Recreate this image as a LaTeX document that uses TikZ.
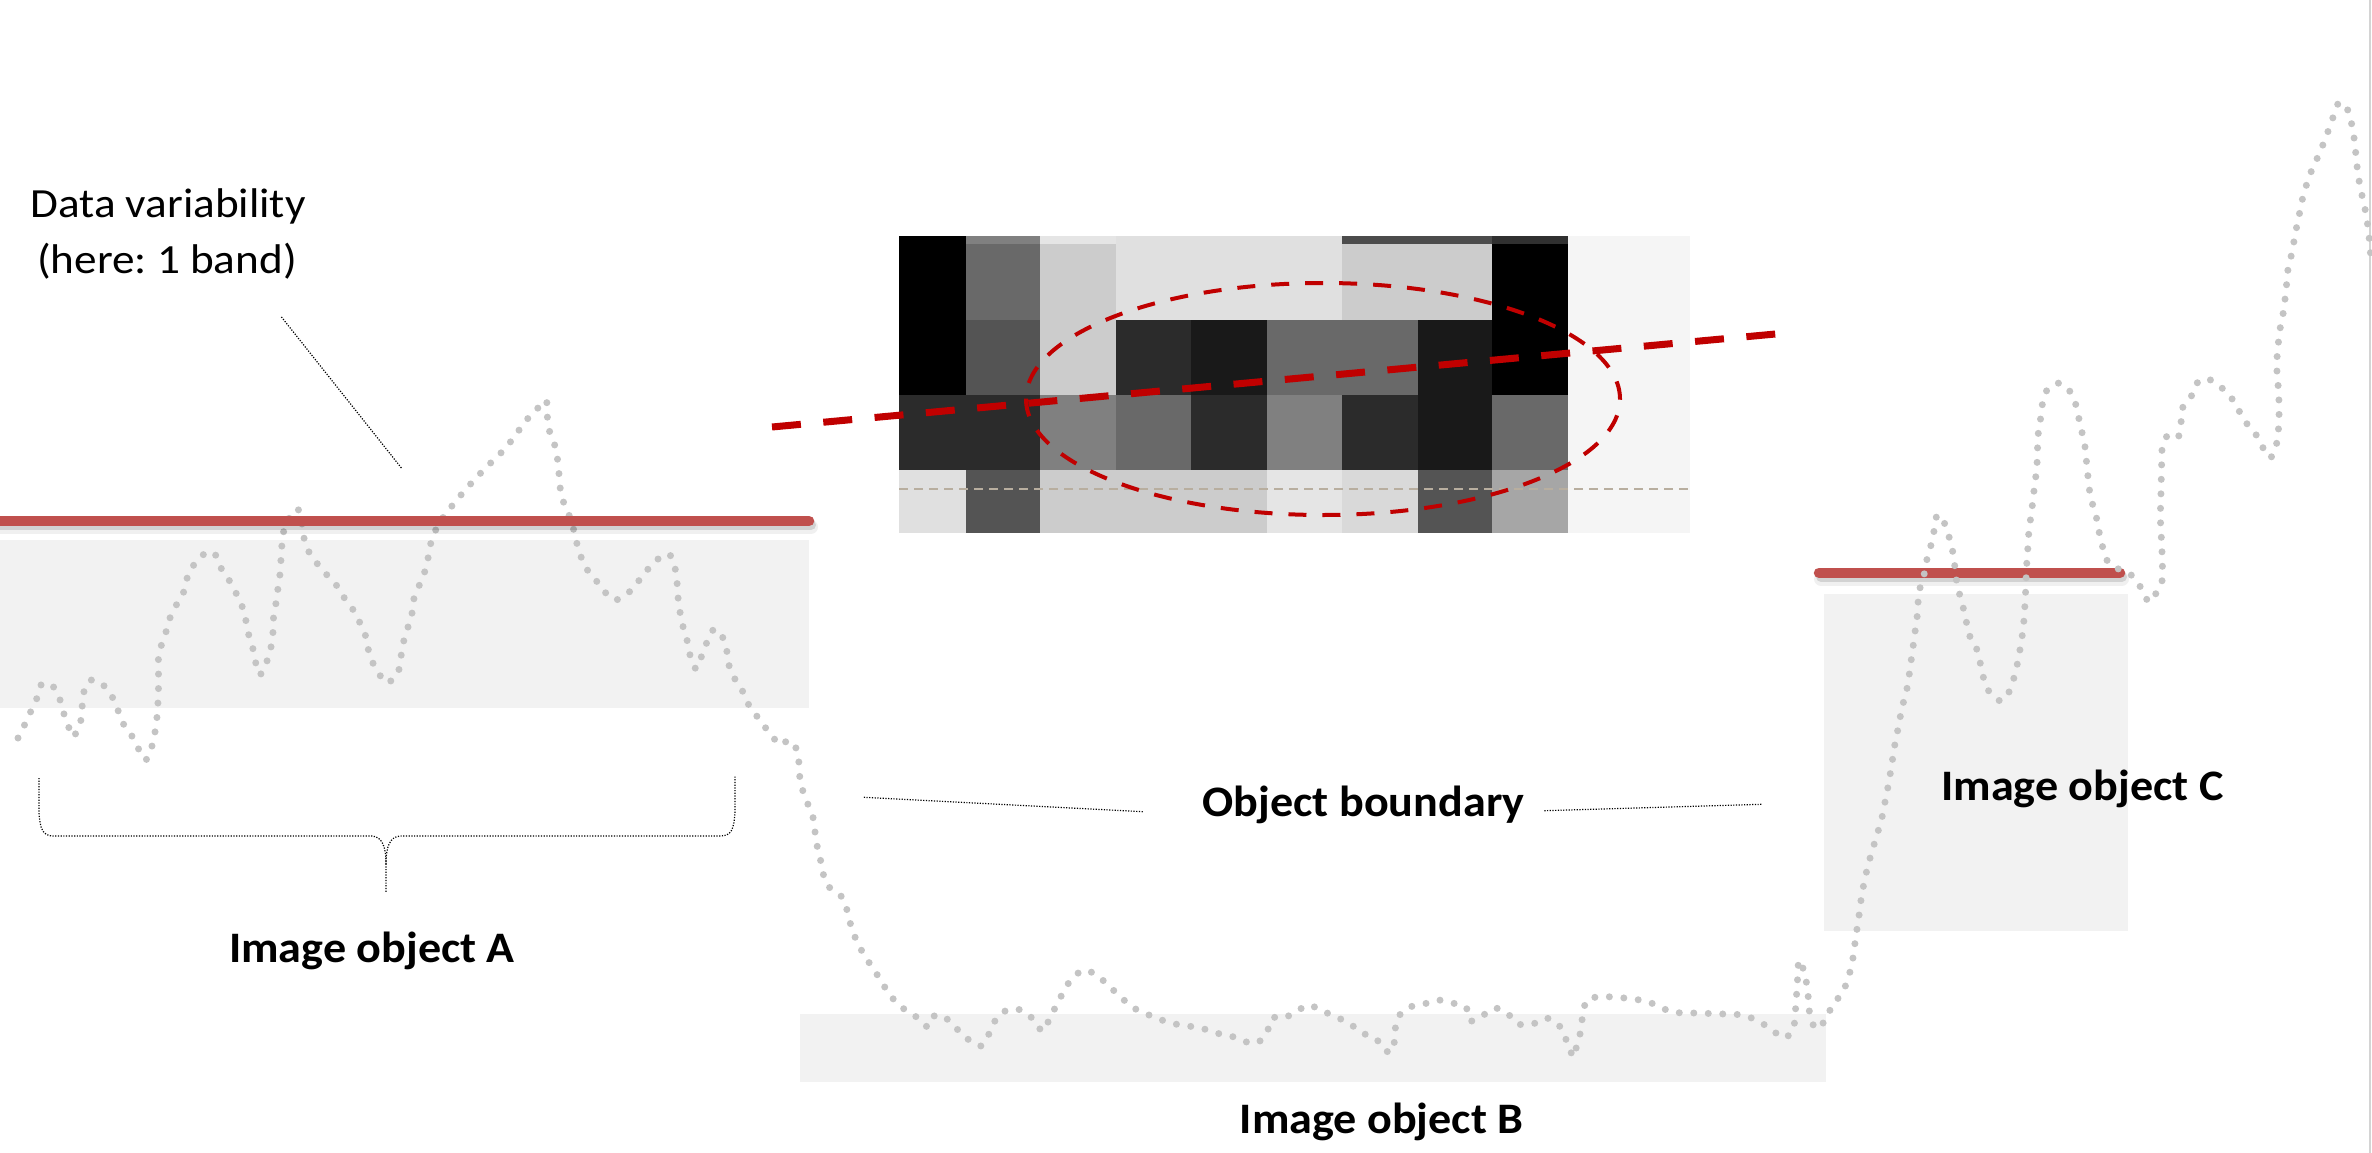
\documentclass[tikz,border=0pt]{standalone}
\usepackage{fontspec}
\usetikzlibrary{shapes.geometric}
\setmainfont{Carlito}
\frenchspacing
\definecolor{boxgray}{HTML}{F2F2F2}
\definecolor{dotgray}{HTML}{C4C4C4}
\definecolor{softred}{HTML}{C0504D}
\definecolor{deepred}{HTML}{C00000}
\definecolor{beige}{HTML}{B8AE9F}
\definecolor{edgegray}{HTML}{D4D4D4}
\newcommand{\boldstretch}[1]{\scalebox{1.06}[1]{#1}}
\newcommand{\plainstretch}[1]{\scalebox{1.09}[1]{#1}}
\begin{document}
\begin{tikzpicture}[x=1pt,y=-1pt,
  objbox/.style={fill=boxgray},
  datacurve/.style={draw=dotgray, line width=7pt, line cap=round, dash pattern=on 0pt off 14.5pt},
  bandline/.style={draw=softred, line width=10.5pt, line cap=round},
  bandshadow/.style={draw=black, line cap=round},
  leader/.style={draw=black, line width=1.2pt, dash pattern=on 1.2pt off 1.5pt},
  boldlabel/.style={font=\fontsize{43.5}{52}\bfseries\selectfont, inner sep=0pt},
  plainlabel/.style={font=\fontsize{41.5}{50}\selectfont, inner sep=0pt}]
\useasboundingbox (0,0) rectangle (2372,1153);
\fill[white] (0,0) rectangle (2372,1153);

% object areas
\fill[objbox] (0,539.5) rectangle (809,707.5);
\fill[objbox] (800,1014) rectangle (1826,1081.7);
\fill[objbox] (1824,593.8) rectangle (2127.7,930.7);

% right edge line
\draw[edgegray, line width=2.5pt] (2370,0) -- (2370,1153);

% red line C (under the curve)
\coordinate (c1) at (1819,572.8);
\coordinate (c2) at (2120,572.8);
\draw[bandshadow, line width=14pt, opacity=0.06] ([shift={(2,6)}]c1) -- ([shift={(2,6)}]c2);
\draw[bandshadow, line width=10pt, opacity=0.12] ([shift={(2,4)}]c1) -- ([shift={(2,4)}]c2);
\draw[bandline] (c1) -- (c2);

% data curve
\draw[datacurve] plot[smooth, tension=0.5] coordinates {
(18,738) (25,724) (31,711) (37,698) (41,685) (51,684) (59,697) (63,711) (68,725) (73,737)
(80,724) (82,710) (83,695) (89,681) (98,681) (106,688) (114,700) (119,713) (125,727) (134,739)
(140,752) (146,760) (152,746) (155,732) (157,717) (158,702) (158.5,687) (158.5,673) (158.5,658)
(162,643) (167,629) (171,615) (178,602) (185,589) (188,575) (196,562) (207,552) (215,554)
(221,568) (229,580) (236,593) (242,606) (246,621) (249,636) (253,649) (256,664) (260,675)
(267,661) (271,647) (273,632) (273.5,618) (276,603) (278,588) (280,574) (281,559) (282,544)
(284,530) (291,515) (298,509) (302,524) (304,538) (309,552) (317.5,564) (327,575) (337,586) (345,599)
(354,611) (360,623) (366,637) (368,648) (371,659) (378,672) (386.5,683) (397.5,674) (400.6,659)
(403,644) (407,630) (411.6,616) (413,602) (416,593) (421.5,580) (427,565) (429,551) (433,536)
(440,522) (448,511) (457.6,499) (467,488) (477,477) (487.5,466) (498,456) (508,445) (517,433)
(525.6,421) (535.6,410.6) (546,400) (547,413) (549,430) (553,439) (556.5,453) (558.6,468)
(559.6,483) (562,498) (567.5,511) (572.7,526) (576,540) (580,554) (586,568) (595,579) (604,591)
(614.5,600) (627,594) (637,583) (646,571.5) (656,560.5) (669,554) (675,568) (677,582) (678,597)
(680,612) (683,626.5) (687,640) (690,655) (696,669) (702,655) (707,642) (714,629) (722,636)
(726.5,649) (728.6,664) (734,677.5) (741.6,689) (747,702) (756,715) (764.6,726.5) (773.5,738)
(781,745) (789,740) (797,750) (799,764) (800,779) (803.5,793) (809,807) (814,821) (815.4,836)
(818,850) (821.7,865) (824.5,879) (830,888) (841,896) (847,910) (850.5,924) (855.4,938)
(862.4,952) (870,964) (878,976) (886,989) (895,1001) (906.6,1011) (918,1018) (928,1027)
(935,1015) (947,1019) (958,1030) (969,1040) (981,1046) (988,1036) (993.6,1023) (1003,1012)
(1017,1009) (1029,1015) (1038.5,1027) (1043,1031) (1050,1018) (1057,1004) (1064,991)
(1071.5,979) (1084,970) (1098,976) (1108.6,986) (1120,996) (1130.4,1006) (1144,1013)
(1157,1018) (1170,1023) (1188,1026) (1201,1028) (1216,1033) (1231,1036) (1243,1041)
(1257,1043) (1267,1032) (1272,1018) (1284,1018) (1297,1011) (1309,1005) (1322,1011)
(1337,1017) (1349,1024) (1362,1031) (1368,1037) (1380,1042) (1389,1053) (1394,1044)
(1395,1031) (1398,1017) (1410,1007) (1424,1004) (1438,1000) (1452,1003) (1466,1007)
(1470,1021) (1482,1016) (1495,1008) (1508,1014) (1518,1024) (1533,1024) (1546,1018)
(1558,1024) (1565,1037) (1570,1050) (1574,1057) (1577,1044) (1581,1030) (1583,1012)
(1588,999) (1602,997) (1616,997) (1631,999) (1646,1001) (1660,1007) (1672,1012) (1687,1013)
(1701,1013) (1717,1014) (1732,1014) (1746,1016) (1760,1022) (1772,1030) (1784,1038)
(1793,1030) (1795,1016) (1796,1002) (1797,988) (1798,972) (1799,960) (1805,974) (1807,988)
(1809,1003) (1810,1017) (1816.5,1029) (1826,1019) (1832,1006) (1842,993) (1848,979)
(1851.5,965) (1854,952) (1855.5,938) (1858,923) (1860,908) (1862,893) (1865,879) (1868,865)
(1872.5,850) (1876.6,835.5) (1881,822) (1884,807) (1887,792) (1889.5,778) (1892,763)
(1894,749) (1897,734) (1899.7,719.5) (1902.7,705) (1906.5,691) (1909,676) (1911,661.5)
(1913,647) (1915,632) (1917,618) (1918,603) (1920,588) (1924.6,572.5) (1927,559) (1931,545)
(1934,531) (1937,515) (1943,520) (1948,533.5) (1952,548) (1954.4,563) (1956,578) (1959,592)
(1963,607) (1966,620) (1969,634.5) (1976,647) (1980,662) (1983,676) (1988,690) (1999,700.5)
(2006,698) (2012,684) (2016,670) (2019,655) (2021.6,640) (2023.5,625) (2024.6,610)
(2025.4,596) (2026,581) (2026.5,567) (2027.6,552) (2028.4,537) (2030,523) (2032,508)
(2033.7,493) (2035.6,478) (2037,464) (2037.5,449) (2038.2,434) (2040.5,419) (2042.4,404)
(2047,390) (2059,383) (2069,390) (2075.6,404) (2079,419) (2082,432.5) (2085,447) (2086.5,462)
(2088,477) (2089.6,491) (2093,506) (2097,520) (2099.7,535) (2103.5,550) (2108.4,563)
(2116,568) (2123.5,571) (2133.7,577) (2141.6,589) (2148.8,602) (2155.6,594) (2162,581)
(2162.4,566) (2162,552) (2161.3,537) (2160.5,522) (2160.5,508) (2161,492) (2161.3,477)
(2161.7,462) (2162.4,447) (2167.7,435) (2173.7,437) (2178.6,436.5) (2181,423) (2182.4,408)
(2191,397) (2196,384) (2206.6,378.5) (2219.4,386) (2230,396) (2238,409) (2245.5,422)
(2255,433) (2262,446) (2270,458) (2276,446) (2278.3,431) (2279,417) (2279,403) (2278.3,388)
(2277,373) (2277,358) (2278.3,343.5) (2280,329) (2283,314) (2285,299) (2286.6,284) (2288,269)
(2291.5,254.5) (2294,241) (2297,225) (2300,211) (2303,196.5) (2307.4,182) (2312.6,168)
(2318.7,155) (2324.4,141) (2329.6,127) (2334.6,113) (2339.5,102) (2349,112) (2352,126.5)
(2354.5,141) (2356,156) (2357.6,171) (2360,186) (2363,200) (2366,214) (2368,228)
(2369.6,242.5) (2370.8,258)};

% red line A (over the curve)
\coordinate (a1) at (-10,521);
\coordinate (a2) at (809,521);
\draw[bandshadow, line width=14pt, opacity=0.06] ([shift={(2,6)}]a1) -- ([shift={(2,6)}]a2);
\draw[bandshadow, line width=10pt, opacity=0.12] ([shift={(2,4)}]a1) -- ([shift={(2,4)}]a2);
\draw[bandline] (a1) -- (a2);

% pixel image
\foreach \xa/\xb/\s/\ra/\rb/\rc/\rd in {
  899/966/100/100/100/83/12, 966/1040/50/59/67/83/67, 1040/1116/10/20/20/50/20,
  1116/1191/12/12/83/59/20, 1191/1267/12/12/90/83/20, 1267/1342/12/12/59/50/10,
  1342/1418/70/20/59/83/15, 1418/1492/70/20/90/90/67, 1492/1568/81/100/100/59/35} {
  \fill[black!\s] (\xa,236) rectangle (\xb,243.8);
  \fill[black!\ra] (\xa,243.5) rectangle (\xb,319.8);
  \fill[black!\rb] (\xa,319.5) rectangle (\xb,394.8);
  \fill[black!\rc] (\xa,394.5) rectangle (\xb,469.8);
  \fill[black!\rd] (\xa,469.5) rectangle (\xb,532.5);
}
\fill[black!4] (1568,236) rectangle (1690,532.5);
\draw[beige, line width=1.8pt, dash pattern=on 9pt off 6pt] (899,489.3) -- (1690,489.3);

% ellipse and dashed boundary line
\node[draw=deepred, line width=4pt, dash pattern=on 18pt off 16pt, ellipse, minimum width=594pt, minimum height=232pt, inner sep=0pt] (seg) at (1323,399) {};
\coordinate (bl1) at (772,427);
\coordinate (bl2) at (1783,333.3);
\draw[deepred, line width=7pt, dash pattern=on 29pt off 22.5pt] (bl1) -- (bl2);

% texts
\node[plainlabel, anchor=base] (dv1) at (168,217.3) {\plainstretch{Data variability}};
\node[plainlabel, anchor=base] (dv2) at (167,273.3) {\plainstretch{(here: 1 band)}};
\node[boldlabel, anchor=base] (objA) at (372,962.7) {\boldstretch{Image object A}};
\node[boldlabel, anchor=base] (objB) at (1381.6,1133.3) {\boldstretch{Image object B}};
\node[boldlabel, anchor=base] (objC) at (2082.4,800.4) {\boldstretch{Image object C}};
\node[boldlabel, anchor=base] (bound) at (1363.6,816) {\boldstretch{Object boundary}};

% leaders
\coordinate (dvs) at (281.4,316.9);
\coordinate (dve) at (402.2,469);
\draw[leader] (dvs) -- (dve);
\coordinate (ob1) at (863.8,797.3);
\coordinate (ob2) at (1143,811.7);
\draw[leader] (ob1) -- (ob2);
\coordinate (ob3) at (1544.3,810.7);
\coordinate (ob4) at (1761.7,804.3);
\draw[leader] (ob3) -- (ob4);

% brace
\coordinate (brL) at (39,778);
\coordinate (brR) at (735,776);
\coordinate (brT) at (386,893);
\draw[leader] (brL) -- (39,812) .. controls (40,830) and (43,836) .. (54,836) -- (372,836)
  .. controls (382,837) and (386,846) .. (386,864) -- (brT);
\draw[leader] (386,864) .. controls (386,846) and (390,837) .. (400,836) -- (720,836)
  .. controls (731,836) and (734,830) .. (735,812) -- (brR);
\end{tikzpicture}
\end{document}
